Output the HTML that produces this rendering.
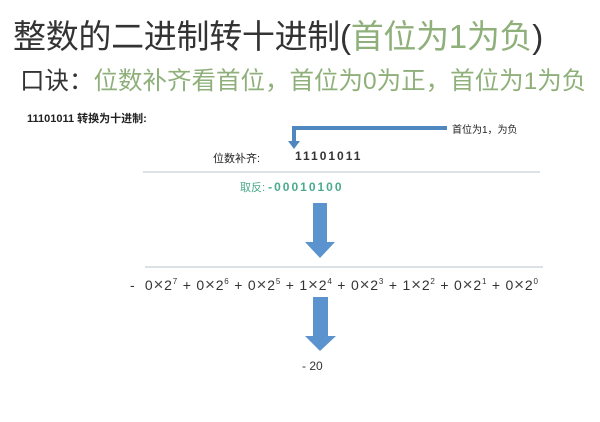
<!DOCTYPE html>
<html><head><meta charset="utf-8"><style>
body{margin:0;width:600px;height:422px;background:#fff;position:relative;overflow:hidden;font-family:"Liberation Sans","Noto Sans CJK SC",sans-serif;color:#222}
.a{position:absolute;white-space:nowrap}
.g{color:#8fb07a}
sup{font-size:8px;vertical-align:6px}
.x{font-size:17px;color:#444}
</style></head><body>
<div class="a" style="left:13px;top:10px;font-size:33px;color:#333;letter-spacing:-0.3px">整数的二进制转十进制(<span class="g">首位为1为负</span>)</div>
<div class="a" style="left:20px;top:62px;font-size:24.5px;color:#333">口诀：<span class="g">位数补齐看首位，首位为0为正，首位为1为负</span></div>
<div class="a" style="left:27px;top:110px;font-size:11px;font-weight:bold">11101011 转换为十进制:</div>
<div class="a" style="left:452px;top:121px;font-size:10px">首位为1，为负</div>
<svg class="a" style="left:0;top:0" width="600" height="422">
<path d="M447 128 H294 V142" fill="none" stroke="#4f87c0" stroke-width="4"/>
<polygon points="288,141 300,141 294,149" fill="#4f87c0"/>
<line x1="143" y1="172" x2="540" y2="172" stroke="#c8cfd6" stroke-width="1.2"/>
<line x1="145" y1="267" x2="543" y2="267" stroke="#c8cfd6" stroke-width="1.2"/>
<rect x="313" y="203" width="14" height="40" fill="#5b93cf"/>
<polygon points="305,242 335,242 320,258" fill="#5b93cf"/>
<rect x="313" y="297" width="15" height="40" fill="#5b93cf"/>
<polygon points="305,336 336,336 320,351" fill="#5b93cf"/>
</svg>
<div class="a" style="left:213px;top:150px;font-size:11px">位数补齐:</div>
<div class="a" style="left:295px;top:149px;font-size:12px;letter-spacing:2px;font-weight:bold;color:#333">11101011</div>
<div class="a" style="left:240px;top:179px;font-size:11px;color:#4aaa8c">取反: <span style="font-size:12px;letter-spacing:2px;font-weight:bold">-00010100</span></div>
<div class="a" style="left:130px;top:275px;font-size:14px;color:#333;letter-spacing:0.8px">-&nbsp; 0<span class="x">×</span>2<sup>7</sup> + 0<span class="x">×</span>2<sup>6</sup> + 0<span class="x">×</span>2<sup>5</sup> + 1<span class="x">×</span>2<sup>4</sup> + 0<span class="x">×</span>2<sup>3</sup> + 1<span class="x">×</span>2<sup>2</sup> + 0<span class="x">×</span>2<sup>1</sup> + 0<span class="x">×</span>2<sup>0</sup></div>
<div class="a" style="left:302px;top:359px;font-size:12px;color:#333">- 20</div>
</body></html>
